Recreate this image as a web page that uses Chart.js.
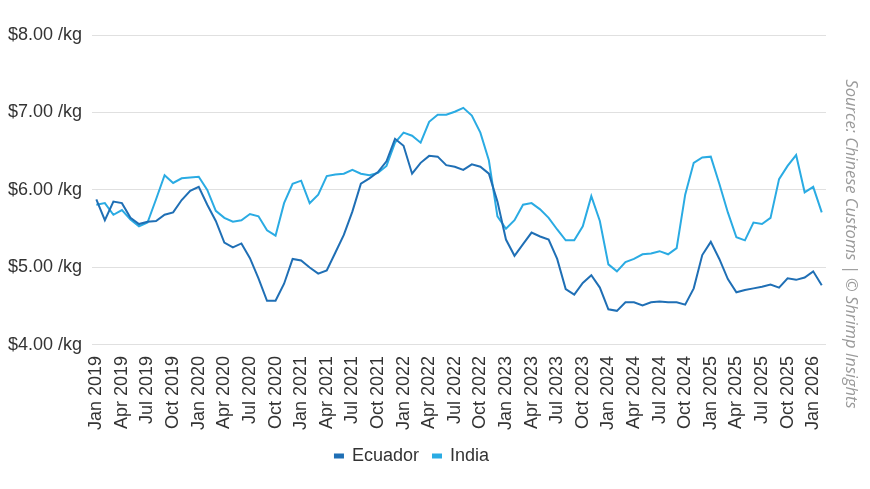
<!DOCTYPE html>
<html>
<head>
<meta charset="utf-8">
<script src="https://cdn.jsdelivr.net/npm/chart.js@4/dist/chart.umd.min.js"></script>
<style>
  html, body { margin: 0; padding: 0; background: #fff; }
  #wrap { width: 870px; height: 489px; }
</style>
</head>
<body>
<div id="wrap"><canvas id="chart" width="870" height="489"></canvas></div>
<script>
// monthly prices, Jan 2019 .. Feb 2026 (USD / kg)
const MONTHS = ['Jan', 'Feb', 'Mar', 'Apr', 'May', 'Jun', 'Jul', 'Aug', 'Sep', 'Oct', 'Nov', 'Dec'];
const START_YEAR = 2019;
const MONTH_COUNT = 86;

const ecuador = [
  5.88, 5.61, 5.85, 5.83, 5.64, 5.56, 5.59, 5.60, 5.68, 5.71, 5.87, 5.99,
  6.04, 5.81, 5.60, 5.32, 5.26, 5.31, 5.12, 4.86, 4.57, 4.57, 4.79, 5.11,
  5.09, 5.00, 4.92, 4.96, 5.19, 5.42, 5.72, 6.08, 6.15, 6.23, 6.37, 6.66,
  6.57, 6.21, 6.35, 6.44, 6.43, 6.32, 6.30, 6.26, 6.33, 6.30, 6.21, 5.85,
  5.36, 5.15, 5.30, 5.45, 5.40, 5.36, 5.11, 4.72, 4.65, 4.80, 4.90, 4.74,
  4.46, 4.44, 4.55, 4.55, 4.51, 4.55, 4.56, 4.55, 4.55, 4.52, 4.73, 5.16,
  5.33, 5.11, 4.85, 4.68, 4.71, 4.73, 4.75, 4.78, 4.74, 4.86, 4.84, 4.87,
  4.95, 4.77
];

const india = [
  5.81, 5.83, 5.68, 5.74, 5.62, 5.53, 5.58, 5.88, 6.19, 6.09, 6.15, 6.16,
  6.17, 6.00, 5.73, 5.64, 5.59, 5.61, 5.69, 5.66, 5.48, 5.41, 5.83, 6.08,
  6.12, 5.83, 5.94, 6.18, 6.20, 6.21, 6.26, 6.21, 6.19, 6.22, 6.31, 6.61,
  6.74, 6.70, 6.61, 6.88, 6.97, 6.97, 7.01, 7.06, 6.96, 6.74, 6.38, 5.66,
  5.50, 5.61, 5.81, 5.83, 5.75, 5.64, 5.49, 5.35, 5.35, 5.53, 5.92, 5.60,
  5.04, 4.95, 5.07, 5.11, 5.17, 5.18, 5.21, 5.17, 5.25, 5.94, 6.35, 6.42,
  6.43, 6.08, 5.71, 5.39, 5.35, 5.58, 5.56, 5.64, 6.14, 6.31, 6.45, 5.97,
  6.04, 5.71
];

const Y_MIN = 4;
const Y_MAX = 8;
const SOURCE = 'Source: Chinese Customs | \u00A9 Shrimp Insights';

const labels = [];
for (let i = 0; i < MONTH_COUNT; i++) {
  labels.push(MONTHS[i % 12] + ' ' + (START_YEAR + Math.floor(i / 12)));
}

// vertical source note on the right edge
const sourceNote = {
  id: 'sourceNote',
  afterDraw(chart) {
    const ctx = chart.ctx;
    ctx.save();
    ctx.translate(851, 244);
    ctx.rotate(Math.PI / 2);
    ctx.font = 'italic 16.5px "Open Sans"';
    ctx.fillStyle = '#9a9a9a';
    ctx.textAlign = 'center';
    ctx.textBaseline = 'middle';
    ctx.fillText(SOURCE, 0, 0);
    ctx.restore();
  }
};

const FONT = 'Liberation Sans';
const TEXT = '#333333';

new Chart(document.getElementById('chart'), {
  type: 'line',
  data: {
    labels: labels,
    datasets: [
      { label: 'Ecuador', data: ecuador, borderColor: '#1f6fb5', backgroundColor: '#1f6fb5', borderWidth: 2, pointRadius: 0, tension: 0 },
      { label: 'India', data: india, borderColor: '#2aabe3', backgroundColor: '#2aabe3', borderWidth: 2, pointRadius: 0, tension: 0 }
    ]
  },
  options: {
    responsive: false,
    animation: false,
    layout: { padding: { left: -2, right: 44, top: 35, bottom: 14 } },
    plugins: {
      tooltip: { enabled: false },
      legend: {
        position: 'bottom',
        labels: {
          boxWidth: 8,
          boxHeight: 3,
          padding: 14,
          color: TEXT,
          font: { family: FONT, size: 18 }
        }
      }
    },
    scales: {
      x: {
        offset: true,
        grid: { display: false },
        border: { display: false },
        ticks: {
          autoSkip: false,
          minRotation: 90,
          maxRotation: 90,
          padding: 3,
          color: TEXT,
          font: { family: FONT, size: 18 },
          callback: function (value, index) {
            return index % 3 === 0 ? labels[index] : null;
          }
        }
      },
      y: {
        min: Y_MIN,
        max: Y_MAX,
        border: { display: false },
        grid: { color: '#e0e0e0', drawTicks: false },
        ticks: {
          stepSize: 1,
          padding: 10,
          color: TEXT,
          font: { family: FONT, size: 18 },
          callback: v => '$' + v.toFixed(2) + ' /kg'
        }
      }
    }
  },
  plugins: [sourceNote]
});
</script>
</body>
</html>
